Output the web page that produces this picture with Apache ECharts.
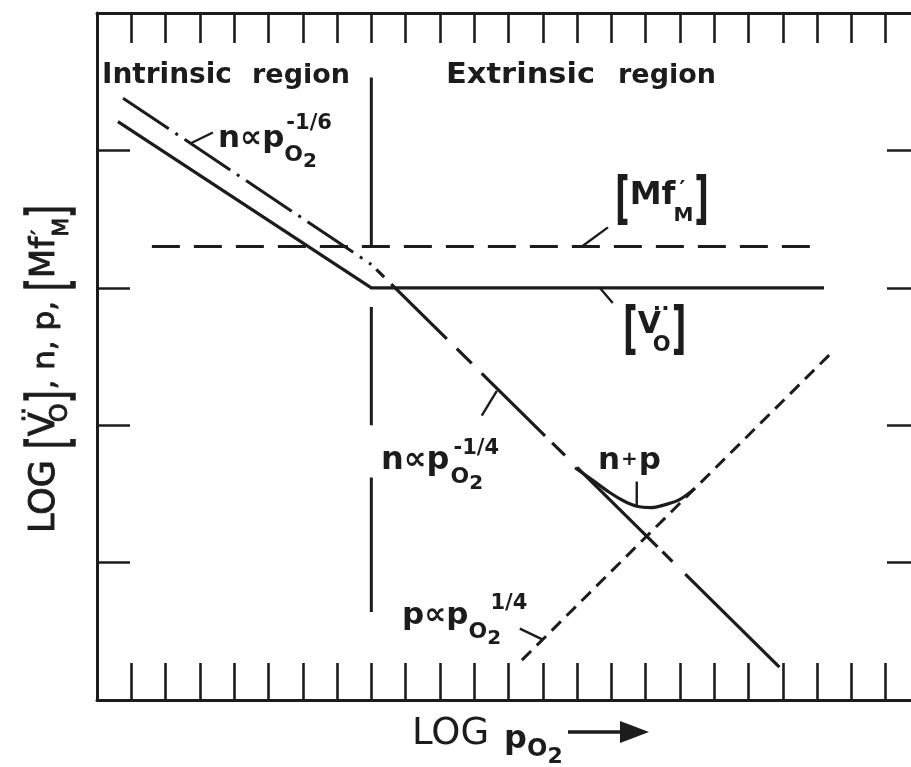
<!DOCTYPE html>
<html>
<head>
<meta charset="utf-8">
<script src="https://cdn.jsdelivr.net/npm/echarts@6/dist/echarts.min.js"></script>
<style>
  html, body { margin: 0; padding: 0; background: #ffffff; }
  #chart { width: 911px; height: 767px; }
</style>
</head>
<body>
<div id="chart"></div>
<script>
// Defect diagram: log of defect concentrations against log pO2.
// Axes are in arbitrary decades: x runs 0..24, y runs 0..5.

const xRange = [0, 24];
const yRange = [0, 5];

// n ∝ pO2^-1/6 in the intrinsic region (dash-dot)
const nIntrinsic = [[0.76, 4.38], [8.0, 3.17]];
// [V_O··]: falls with slope -1/6, then pinned by the dopant
const vacancy = [[0.61, 4.21], [8.0, 3.0], [21.2, 3.0]];
// [Mf'_M]: dopant level (dashed)
const dopant = [[1.6, 3.3], [20.87, 3.3]];
// n ∝ pO2^-1/4 in the extrinsic region
const nExtrinsic = [[8.0, 3.17], [19.9, 0.24]];
// p ∝ pO2^1/4 (short dashes)
const holes = [[12.39, 0.29], [21.43, 2.53]];
// n + p near the crossover
const nPlusP = [[13.94, 1.69], [14.45, 1.60], [14.95, 1.51], [15.35, 1.45], [15.74, 1.41],
                [16.15, 1.40], [16.55, 1.42], [17.0, 1.46], [17.43, 1.54]];
// boundary between intrinsic and extrinsic regions
const boundary = [
  [[8, 4.53], [8, 3.30]],
  [[8, 2.86], [8, 2.0]],
  [[8, 1.62], [8, 0.64]]
];
// short leader strokes from labels to their curves
const leaders = [
  [[2.72, 4.05], [3.38, 4.13]],
  [[14.14, 3.30], [14.9, 3.44]],
  [[14.66, 3.0], [15.04, 2.89]],
  [[11.22, 2.07], [11.66, 2.25]],
  [[15.74, 1.41], [15.74, 1.59]],
  [[12.33, 0.52], [13.0, 0.44]]
];

const INK = '#1c1c1c';
const FONT = '"DejaVu Sans"';

function path(data, type, width, smooth) {
  return {
    type: 'line', data: data, symbol: 'none', silent: true, smooth: smooth || false,
    lineStyle: { color: INK, width: width || 3, type: type || 'solid', cap: 'butt', join: 'miter' },
    z: 3
  };
}

const series = [
  path(nIntrinsic, [55, 8, 3, 8], 3),
  path(vacancy, 'solid', 3.2),
  path(dopant, [28, 14], 3),
  path(nExtrinsic, [0, 7, 11, 10, 78, 14, 21, 14, 89, 10, 18, 17, 113, 7, 14, 18, 320, 10], 3.2),
  path(holes, [13, 8], 3),
  path(nPlusP, 'solid', 3.2, 0.35)
];
boundary.forEach(s => series.push(path(s, 'solid', 3)));
leaders.forEach(s => series.push(path(s, 'solid', 2.4)));

// ---- text helpers (laid out in pixels) ----
const measureCtx = document.createElement('canvas').getContext('2d');
function fontOf(size, weight) { return (weight || 'bold') + ' ' + size + 'px ' + FONT; }
function widthOf(s, size, weight) { measureCtx.font = fontOf(size, weight); return measureCtx.measureText(s).width; }

// one text element with its left edge at x and baseline at y
function glyph(x, y, s, size, weight, scaleY, heavy, scaleX) {
  const el = {
    type: 'text', x: x, y: y, silent: true, z: 10,
    style: {
      text: s, x: 0, y: -0.30 * size, font: fontOf(size, weight), fill: INK,
      textAlign: 'left', textVerticalAlign: 'middle'
    }
  };
  if (heavy) { el.style.stroke = INK; el.style.lineWidth = heavy; }
  if (scaleY || scaleX) {
    el.scaleY = scaleY || 1; el.scaleX = scaleX || 1;
    el.originX = 0; el.originY = -0.32 * size;
  }
  return el;
}

// a run of pieces; piece.dy shifts the baseline, piece.keep stops the pen advancing
function run(x0, y0, pieces, weight, heavy) {
  let x = x0;
  const out = [];
  pieces.forEach(p => {
    const w = p.weight || weight;
    out.push(glyph(x + (p.dx || 0), y0 + (p.dy || 0), p.s, p.size, w, p.scaleY, heavy));
    if (!p.keep) x += widthOf(p.s, p.size, w) + (p.dx || 0) + (p.gap || 0);
  });
  return out;
}

const texts = [];
texts.push(glyph(102, 84, 'Intrinsic', 28, 'bold'));
texts.push(glyph(252, 84, 'region', 27, 'bold'));
texts.push(glyph(446, 84, 'Extrinsic', 28, 'bold', null, 0, 1.09));
texts.push(glyph(618, 84, 'region', 27, 'bold'));

// n ∝ pO2^-1/6
texts.push(...run(218, 148, [
  { s: 'n∝p', size: 31 },
  { s: '-1/6', size: 21, dy: -18, dx: 2, keep: true },
  { s: 'O', size: 22, dy: 14 },
  { s: '2', size: 20, dy: 20 }
], 'bold'));

// n ∝ pO2^-1/4
texts.push(...run(381, 470, [
  { s: 'n∝p', size: 32 },
  { s: '-1/4', size: 21, dy: -15, dx: 4, keep: true },
  { s: 'O', size: 22, dy: 14, dx: 1 },
  { s: '2', size: 20, dy: 20 }
], 'bold'));

// p ∝ pO2^1/4
texts.push(...run(402, 625, [
  { s: 'p∝p', size: 31 },
  { s: '1/4', size: 21, dy: -15, dx: 22, keep: true },
  { s: 'O', size: 22, dy: 14 },
  { s: '2', size: 20, dy: 20 }
], 'bold'));

// n + p
texts.push(...run(598, 470, [
  { s: 'n', size: 31 },
  { s: '+', size: 20, dy: -4, dx: 1 },
  { s: 'p', size: 31, dx: 1 }
], 'bold'));

// [Mf'_M]
texts.push(...run(615, 205, [
  { s: '[', size: 32, scaleY: 1.8, dy: 6 },
  { s: 'Mf', size: 32 },
  { s: '\u2032', size: 22, dy: -8, dx: 4, keep: true },
  { s: 'M', size: 20, dy: 17, dx: -2 },
  { s: ']', size: 32, scaleY: 1.8, dy: 6, dx: 1 }
], 'bold'));

// [V_O··]
texts.push(...run(623, 334, [
  { s: '[', size: 32, scaleY: 1.8, dy: 7 },
  { s: 'V', size: 30, gap: -8 },
  { s: '··', size: 22, dy: -18, keep: true },
  { s: 'O', size: 21, dy: 18 },
  { s: ']', size: 32, scaleY: 1.8, dy: 7, dx: 1 }
], 'bold'));

// x axis title with arrow
texts.push(...run(412, 745, [
  { s: 'LOG', size: 37, weight: 'normal', gap: 15 },
  { s: 'p', size: 32, dy: 4 },
  { s: 'O', size: 24, dy: 12 },
  { s: '2', size: 22, dy: 19 }
], 'bold'));

// y axis title, rotated to read bottom to top
const yTitle = {
  type: 'group', x: 55, y: 533, rotation: Math.PI / 2, silent: true,
  children: run(0, 0, [
    { s: 'LOG', size: 35, gap: 11 },
    { s: '[', size: 33, scaleY: 1.75, dy: 6 },
    { s: 'V', size: 35, gap: -10 },
    { s: '··', size: 24, dy: -22, keep: true },
    { s: 'O', size: 24, dy: 13 },
    { s: ']', size: 33, scaleY: 1.75, dy: 6, gap: 1 },
    { s: ', n, p, ', size: 31 },
    { s: '[', size: 33, scaleY: 1.75, dy: 6 },
    { s: 'Mf', size: 34 },
    { s: '\u2032', size: 22, dy: -7, dx: 2, keep: true },
    { s: 'M', size: 22, dy: 14 },
    { s: ']', size: 33, scaleY: 1.75, dy: 6 }
  ], 'normal', 0.9)
};

const arrow = [
  { type: 'line', silent: true, shape: { x1: 568, y1: 732, x2: 625, y2: 732 },
    style: { stroke: INK, lineWidth: 3.5 } },
  { type: 'polygon', silent: true, shape: { points: [[620, 721], [649, 732], [620, 743]] },
    style: { fill: INK } }
];

function xAxisOf(position, tickLen) {
  return {
    type: 'value', min: xRange[0], max: xRange[1], interval: 1, position: position,
    axisLine: { show: true, onZero: false, lineStyle: { color: INK, width: 3 } },
    axisTick: { show: true, inside: true, length: tickLen, lineStyle: { color: INK, width: 2.6 } },
    axisLabel: { show: false }, splitLine: { show: false }
  };
}
function yAxisOf(position, tickLen) {
  return {
    type: 'value', min: yRange[0], max: yRange[1], interval: 1, position: position,
    axisLine: { show: true, onZero: false, lineStyle: { color: INK, width: 3 } },
    axisTick: { show: true, inside: true, length: tickLen, lineStyle: { color: INK, width: 2.6 } },
    axisLabel: { show: false }, splitLine: { show: false }
  };
}

const chart = echarts.init(document.getElementById('chart'), null, { renderer: 'canvas' });
chart.setOption({
  animation: false,
  backgroundColor: '#ffffff',
  grid: { left: 97, top: 13, width: 823, height: 687, containLabel: false, outerBoundsMode: 'none' },
  xAxis: [xAxisOf('bottom', 37), xAxisOf('top', 30)],
  yAxis: [yAxisOf('left', 33), yAxisOf('right', 33)],
  series: series,
  graphic: texts.concat([yTitle]).concat(arrow)
});
</script>
</body>
</html>
